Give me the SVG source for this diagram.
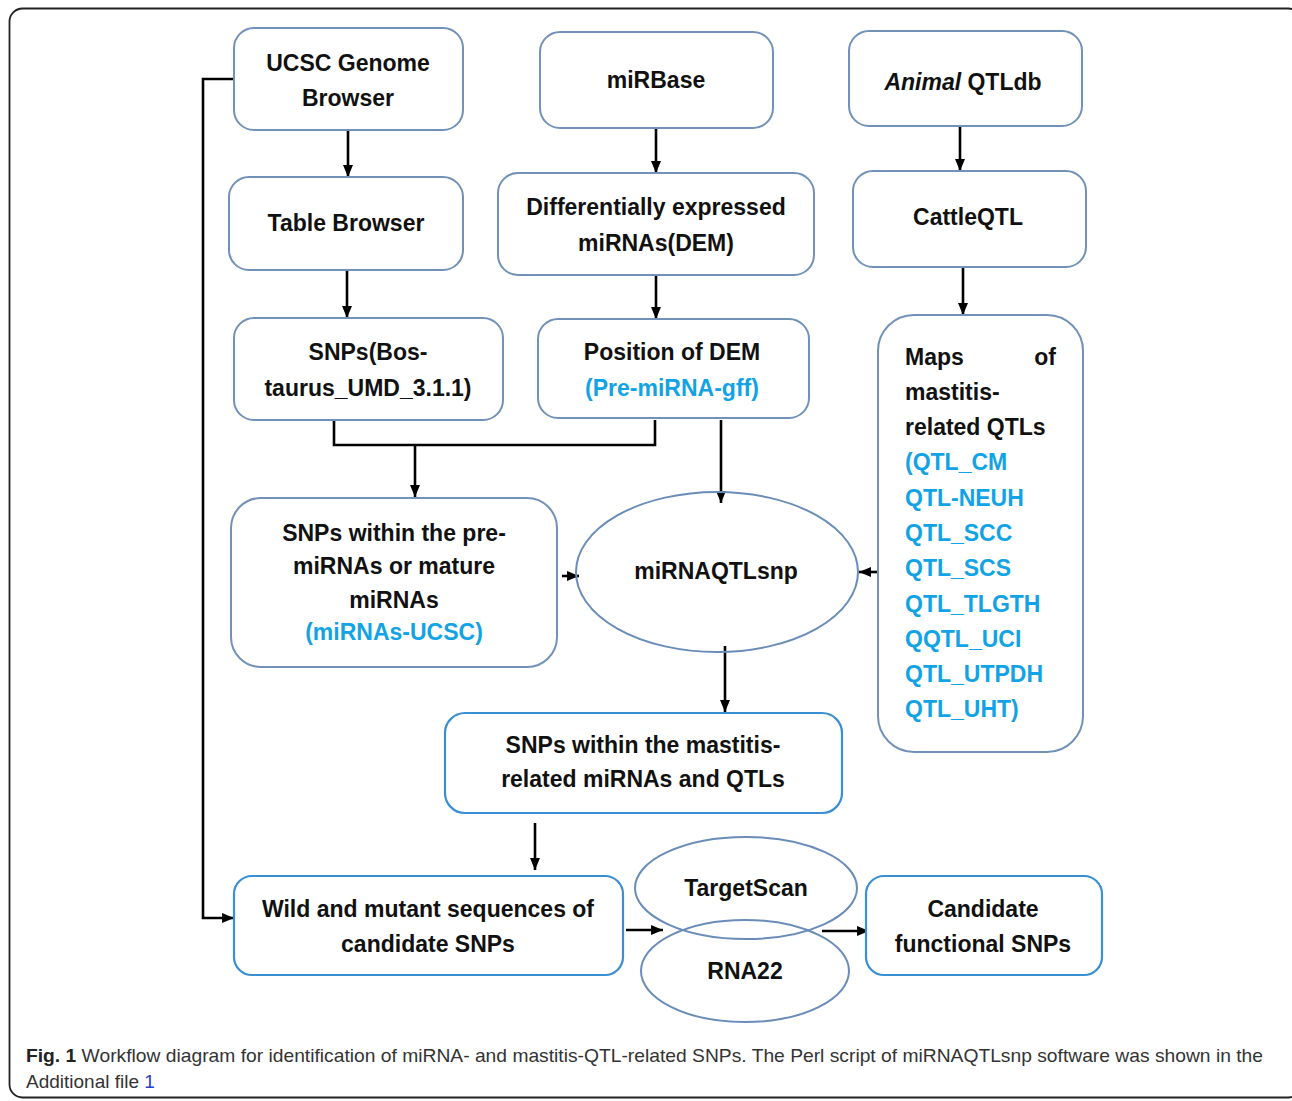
<svg xmlns="http://www.w3.org/2000/svg" width="1292" height="1101" viewBox="0 0 1292 1101">
<defs>
<marker id="ah" viewBox="0 0 12 10" refX="12" refY="5" markerWidth="4.6" markerHeight="3.85" markerUnits="strokeWidth" orient="auto">
<path d="M0,0 L12,5 L0,10 Z" fill="#000"/>
</marker>
<style>
.box{fill:#fff;stroke:#7291b8;stroke-width:2}
.boxb{fill:#fff;stroke:#3a8fd4;stroke-width:2.2}
.ell{fill:none;stroke:#6a8cb8;stroke-width:2}
.t{font-family:"Liberation Sans",Arial,sans-serif;font-weight:bold;font-size:23px;fill:#111;text-anchor:middle}
.tl{font-family:"Liberation Sans",Arial,sans-serif;font-weight:bold;font-size:23px;fill:#111}
.bl{fill:#12a3e6}
.c{fill:none;stroke:#000;stroke-width:2.6}
.ca{fill:none;stroke:#000;stroke-width:2.6;marker-end:url(#ah)}
.cap{font-family:"Liberation Sans",Arial,sans-serif;font-size:19px;fill:#333}
</style>
</defs>
<rect x="9.5" y="8.5" width="1292" height="1089" rx="13" fill="#fff" stroke="#222" stroke-width="1.8"/>

<g id="connectors">
<path class="ca" d="M348,130 V177"/>
<path class="ca" d="M347,270 V318"/>
<path class="ca" d="M656,128 V173"/>
<path class="ca" d="M656,275 V319"/>
<path class="ca" d="M960,126 V171"/>
<path class="ca" d="M963,267 V315"/>
<path class="c" d="M334,420 V445 H655 V420"/>
<path class="ca" d="M415,445 V497"/>
<path class="ca" d="M721,420 V503"/>
<path class="ca" d="M562,576 H579"/>
<path class="ca" d="M878,572 H859"/>
<path class="ca" d="M725,646 V712"/>
<path class="ca" d="M535,823 V870"/>
<path class="ca" d="M234,79 H203 V918 H234"/>
<path class="ca" d="M626,930 H663"/>
<path class="ca" d="M822,931 H869"/>
</g>

<g id="n_ucsc"><rect class="box" x="234" y="28" width="229" height="102" rx="20"/>
<text class="t" x="348" y="71">UCSC Genome</text><text class="t" x="348" y="106">Browser</text></g>

<g id="n_mirbase"><rect class="box" x="540" y="32" width="233" height="96" rx="20"/>
<text class="t" x="656" y="88">miRBase</text></g>

<g id="n_animal"><rect class="box" x="849" y="31" width="233" height="95" rx="20"/>
<text class="t" x="963" y="90"><tspan font-style="italic">Animal</tspan> QTLdb</text></g>

<g id="n_table"><rect class="box" x="229" y="177" width="234" height="93" rx="20"/>
<text class="t" x="346" y="231">Table Browser</text></g>

<g id="n_dem"><rect class="box" x="498" y="173" width="316" height="102" rx="20"/>
<text class="t" x="656" y="215">Differentially expressed</text><text class="t" x="656" y="251">miRNAs(DEM)</text></g>

<g id="n_cattle"><rect class="box" x="853" y="171" width="233" height="96" rx="20"/>
<text class="t" x="968" y="225">CattleQTL</text></g>

<g id="n_snpsbos"><rect class="box" x="234" y="318" width="269" height="102" rx="20"/>
<text class="t" x="368" y="360">SNPs(Bos-</text><text class="t" x="368" y="396">taurus_UMD_3.1.1)</text></g>

<g id="n_posdem"><rect class="box" x="538" y="319" width="271" height="99" rx="20"/>
<text class="t" x="672" y="360">Position of DEM</text><text class="t bl" x="672" y="396">(Pre-miRNA-gff)</text></g>

<g id="n_maps"><rect class="box" x="878" y="315" width="205" height="437" rx="36"/>
<text class="tl" x="905" y="365">Maps</text><text class="tl" x="1056" y="365" text-anchor="end">of</text>
<text class="tl" x="905" y="400">mastitis-</text>
<text class="tl" x="905" y="435">related QTLs</text>
<text class="tl bl" x="905" y="470">(QTL_CM</text>
<text class="tl bl" x="905" y="506">QTL-NEUH</text>
<text class="tl bl" x="905" y="541">QTL_SCC</text>
<text class="tl bl" x="905" y="576">QTL_SCS</text>
<text class="tl bl" x="905" y="612">QTL_TLGTH</text>
<text class="tl bl" x="905" y="647">QQTL_UCI</text>
<text class="tl bl" x="905" y="682">QTL_UTPDH</text>
<text class="tl bl" x="905" y="717">QTL_UHT)</text></g>

<g id="n_snpspre"><rect class="box" x="231" y="498" width="326" height="169" rx="30"/>
<text class="t" x="394" y="541">SNPs within the pre-</text>
<text class="t" x="394" y="574">miRNAs or mature</text>
<text class="t" x="394" y="608">miRNAs</text>
<text class="t bl" x="394" y="640">(miRNAs-UCSC)</text></g>

<g id="n_mirnaqtlsnp"><ellipse class="ell" cx="717" cy="572" rx="141" ry="80"/>
<text class="t" x="716" y="579">miRNAQTLsnp</text></g>

<g id="n_snpsmast"><rect class="boxb" x="445" y="713" width="397" height="100" rx="20"/>
<text class="t" x="643" y="753">SNPs within the mastitis-</text>
<text class="t" x="643" y="787">related miRNAs and QTLs</text></g>

<g id="n_wild"><rect class="boxb" x="234" y="876" width="389" height="99" rx="18"/>
<text class="t" x="428" y="917">Wild and mutant sequences of</text>
<text class="t" x="428" y="952">candidate SNPs</text></g>

<g id="n_targetscan"><ellipse class="ell" cx="746" cy="888" rx="111" ry="51"/>
<text class="t" x="746" y="896">TargetScan</text></g>

<g id="n_rna22"><ellipse class="ell" cx="745" cy="971" rx="104" ry="51"/>
<text class="t" x="745" y="979">RNA22</text></g>

<g id="n_candidate"><rect class="boxb" x="866" y="876" width="236" height="99" rx="18"/>
<text class="t" x="983" y="917">Candidate</text>
<text class="t" x="983" y="952">functional SNPs</text></g>

<text class="cap" x="26" y="1062" textLength="1237" lengthAdjust="spacingAndGlyphs"><tspan font-weight="bold" fill="#222">Fig. 1</tspan> Workflow diagram for identification of miRNA- and mastitis-QTL-related SNPs. The Perl script of miRNAQTLsnp software was shown in the</text>
<text class="cap" x="26" y="1088">Additional file <tspan fill="#2a3cd6">1</tspan></text>
</svg>
